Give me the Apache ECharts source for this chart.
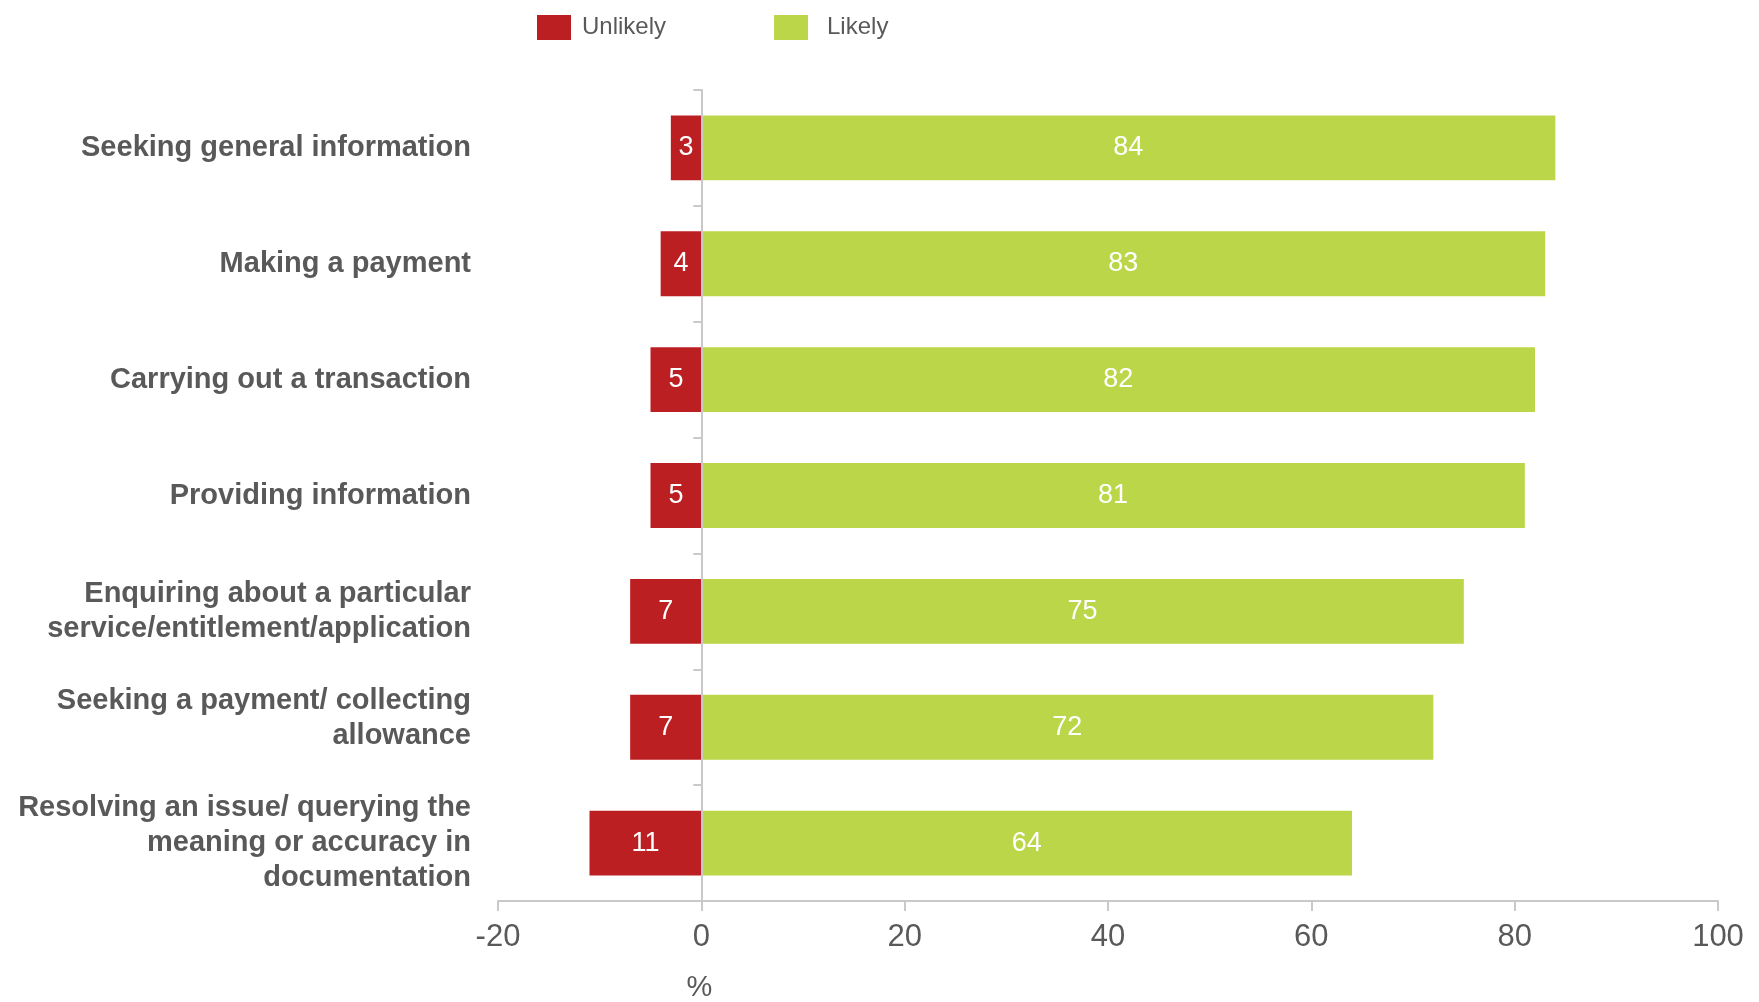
<!DOCTYPE html>
<html>
<head>
<meta charset="utf-8">
<title>Likelihood of using online channels by task</title>
<script src="https://cdn.jsdelivr.net/npm/echarts@6/dist/echarts.min.js"></script>
<style>
  html, body { margin: 0; padding: 0; background: #ffffff; }
  #chart { width: 1759px; height: 1002px; }
</style>
</head>
<body>
<div id="chart"></div>
<script>
// Tasks, listed top to bottom
const categories = [
  'Seeking general information',
  'Making a payment',
  'Carrying out a transaction',
  'Providing information',
  'Enquiring about a particular\nservice/entitlement/application',
  'Seeking a payment/ collecting\nallowance',
  'Resolving an issue/ querying the\nmeaning or accuracy in\ndocumentation'
];

// Share of respondents (%)
const unlikely = [3, 4, 5, 5, 7, 7, 11];
const likely = [84, 83, 82, 81, 75, 72, 64];

// Value axis ticks
const axisMin = -20;
const axisMax = 100;
const axisStep = 20;

const FONT = '"Liberation Sans", Arial, Helvetica, sans-serif';
const TEXT_GREY = '#595959';
const RED = '#BC1F22';
const GREEN = '#BCD649';

const chart = echarts.init(document.getElementById('chart'));

const option = {
  animation: false,
  backgroundColor: '#ffffff',
  textStyle: { fontFamily: FONT },
  legend: {
    left: 532,
    top: 10,
    itemWidth: 34,
    itemHeight: 25,
    itemGap: 108,
    icon: 'rect',
    textStyle: { fontFamily: FONT, fontSize: 24, color: TEXT_GREY },
    data: [
      { name: 'Unlikely', textStyle: { padding: [0, 0, 0, 6] } },
      { name: 'Likely', textStyle: { padding: [0, 0, 0, 14] } }
    ]
  },
  grid: {
    left: 498, right: 41, top: 90, bottom: 101,
    containLabel: false,
    outerBoundsMode: 'none'
  },
  xAxis: {
    type: 'value',
    min: axisMin,
    max: axisMax,
    interval: axisStep,
    axisLine: { show: true, lineStyle: { color: '#c9c9c9', width: 2 } },
    axisTick: { show: true, length: 10, lineStyle: { color: '#c9c9c9', width: 2 } },
    axisLabel: { fontFamily: FONT, fontSize: 31, color: TEXT_GREY, margin: 21 },
    splitLine: { show: false }
  },
  yAxis: {
    type: 'category',
    inverse: true,
    data: categories,
    z: 5,
    axisLine: { show: true, onZero: true, lineStyle: { color: '#c9c9c9', width: 2 } },
    axisTick: { show: true, length: 8, lineStyle: { color: '#c9c9c9', width: 2 } },
    axisLabel: {
      fontFamily: FONT,
      fontSize: 29,
      fontWeight: 'bold',
      color: TEXT_GREY,
      align: 'right',
      lineHeight: 35,
      margin: 27,
      // the two-line "Seeking a payment" label sits a little above its bar
      formatter: (value, index) => index === 5 ? value + '\n{gap| }' : value,
      rich: { gap: { fontSize: 1, lineHeight: 18, height: 18 } }
    },
    splitLine: { show: false }
  },
  series: [
    {
      name: 'Unlikely',
      type: 'bar',
      stack: 'total',
      barWidth: '56%',
      itemStyle: { color: RED },
      label: {
        show: true,
        position: 'inside',
        color: '#ffffff',
        fontFamily: FONT,
        fontSize: 27,
        formatter: p => String(Math.abs(p.value))
      },
      data: unlikely.map(v => -v)
    },
    {
      name: 'Likely',
      type: 'bar',
      stack: 'total',
      barWidth: '56%',
      itemStyle: { color: GREEN },
      label: {
        show: true,
        position: 'inside',
        color: '#ffffff',
        fontFamily: FONT,
        fontSize: 27
      },
      data: likely
    }
  ]
};

chart.setOption(option);

// Unit caption under the zero tick
const zeroX = chart.convertToPixel({ xAxisIndex: 0 }, 0);
chart.setOption({
  graphic: [{
    type: 'text',
    x: zeroX - 2,
    y: 988,
    style: {
      text: '%',
      fontFamily: FONT,
      fontSize: 29,
      fill: TEXT_GREY,
      align: 'center',
      verticalAlign: 'middle'
    }
  }]
});
</script>
</body>
</html>
